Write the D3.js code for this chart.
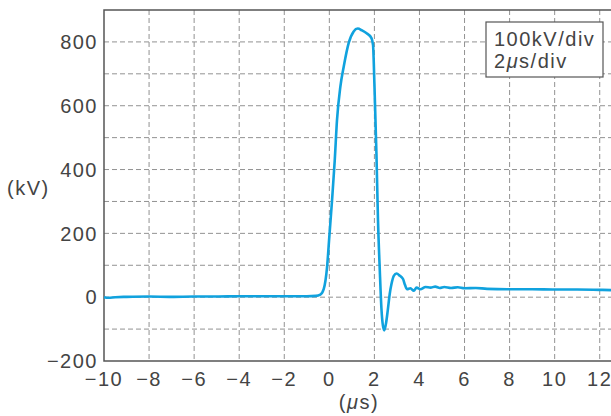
<!DOCTYPE html>
<html>
<head>
<meta charset="utf-8">
<script src="https://cdn.jsdelivr.net/npm/d3@7"></script>
<style>
  body { margin: 0; background: #fff; }
  text { font-family: "Liberation Sans", Arial, sans-serif; fill: #444; }
</style>
</head>
<body>
<div id="chart"></div>
<script>
// waveform: time (us) and voltage (kV)
const times = [-10, -9.8, -9.5, -9, -8, -7, -6, -5, -4, -3, -2, -1, -0.6, -0.4, -0.25, -0.1, 0, 0.12, 0.24, 0.34, 0.49, 0.64, 0.86, 1.08, 1.26, 1.45, 1.67, 1.87, 1.94, 2.0, 2.09, 2.16, 2.24, 2.31, 2.38, 2.44, 2.52, 2.59, 2.68, 2.76, 2.86, 2.98, 3.13, 3.27, 3.36, 3.45, 3.6, 3.75, 3.87, 4.04, 4.27, 4.49, 4.7, 4.9, 5.1, 5.4, 5.7, 6, 6.5, 7, 7.9, 9, 10, 11, 12, 12.5];
const volts = [0, -2, 0, 1, 2, 1, 2, 2, 3, 3, 3, 3, 4, 8, 25, 95, 190, 303, 429, 555, 660, 723, 797, 833, 842, 836, 826, 812, 790, 670, 451, 240, 83, -33, -90, -104, -80, -43, 10, 42, 67, 74, 67, 57, 38, 25, 28, 20, 30, 25, 32, 30, 33, 29, 32, 29, 31, 28, 29, 26, 25, 25, 24, 24, 23, 22];

const xTicks = [-10, -8, -6, -4, -2, 0, 2, 4, 6, 8, 10, 12];
const yTicks = [-200, 0, 200, 400, 600, 800];
const xGrid = [-8, -6, -4, -2, 0, 2, 4, 6, 8, 10, 12];
const yGrid = [-100, 0, 100, 200, 300, 400, 500, 600, 700, 800];
const legendLines = ["100kV/div", "2μs/div"];

const width = 611, height = 416;
const margin = { top: 10, right: 0, bottom: 55, left: 104 };

const svg = d3.select("#chart").append("svg")
  .attr("width", width)
  .attr("height", height);

const x = d3.scaleLinear().domain([-10, 12.5]).range([margin.left, width - margin.right]);
const y = d3.scaleLinear().domain([-200, 900]).range([height - margin.bottom, margin.top]);

// grid
svg.append("g").selectAll("line").data(xGrid).enter().append("line")
  .attr("x1", d => x(d)).attr("x2", d => x(d))
  .attr("y1", y(900)).attr("y2", y(-200))
  .attr("stroke", "#929292").attr("stroke-width", 1)
  .attr("stroke-dasharray", "5,3");

svg.append("g").selectAll("line").data(yGrid).enter().append("line")
  .attr("x1", x(-10)).attr("x2", x(12.5))
  .attr("y1", d => y(d)).attr("y2", d => y(d))
  .attr("stroke", "#929292").attr("stroke-width", 1)
  .attr("stroke-dasharray", "5,3");

// frame: left, bottom, top
svg.append("path")
  .attr("d", `M${x(12.5)},${y(900)}H${x(-10)}V${y(-200)}H${x(12.5)}`)
  .attr("fill", "none").attr("stroke", "#555").attr("stroke-width", 1.5);

// tick labels
svg.append("g").selectAll("text").data(yTicks).enter().append("text")
  .attr("x", margin.left - 6)
  .attr("y", d => y(d))
  .attr("dy", "0.36em")
  .attr("text-anchor", "end")
  .style("font-size", "20px")
  .style("letter-spacing", "1.5px")
  .text(d => d3.format("")(d));

svg.append("g").selectAll("text").data(xTicks).enter().append("text")
  .attr("x", d => x(d))
  .attr("y", 386)
  .attr("text-anchor", "middle")
  .style("font-size", "20px")
  .style("letter-spacing", "1.5px")
  .text(d => d3.format("")(d));

svg.append("text")
  .attr("x", 7).attr("y", 195)
  .style("font-size", "20px")
  .style("letter-spacing", "1.5px")
  .text("(kV)");

const xl = svg.append("text")
  .attr("x", 359).attr("y", 409)
  .attr("text-anchor", "middle")
  .style("font-size", "20px")
  .style("letter-spacing", "1.5px");
xl.append("tspan").text("(");
xl.append("tspan").style("font-style", "italic").text("μ");
xl.append("tspan").text("s)");

// waveform
const pts = times.map((t, i) => [t, volts[i]]);
svg.append("path")
  .datum(pts)
  .attr("fill", "none")
  .attr("stroke", "#10a2de")
  .attr("stroke-width", 2.6)
  .attr("stroke-linejoin", "round")
  .attr("d", d3.line().x(d => x(d[0])).y(d => y(d[1])).curve(d3.curveMonotoneX));

// legend box
const lg = svg.append("g");
lg.append("rect")
  .attr("x", 486).attr("y", 22)
  .attr("width", 117).attr("height", 55)
  .attr("fill", "#fff").attr("stroke", "#555").attr("stroke-width", 1.2);
lg.selectAll("text").data(legendLines).enter().append("text")
  .attr("x", 494)
  .attr("y", (d, i) => 46 + i * 22)
  .style("font-size", "20px")
  .style("letter-spacing", "1.5px")
  .each(function (d) {
    const t = d3.select(this);
    const k = d.indexOf("μ");
    if (k < 0) { t.text(d); return; }
    t.append("tspan").text(d.slice(0, k));
    t.append("tspan").style("font-style", "italic").text("μ");
    t.append("tspan").text(d.slice(k + 1));
  });
</script>
</body>
</html>
